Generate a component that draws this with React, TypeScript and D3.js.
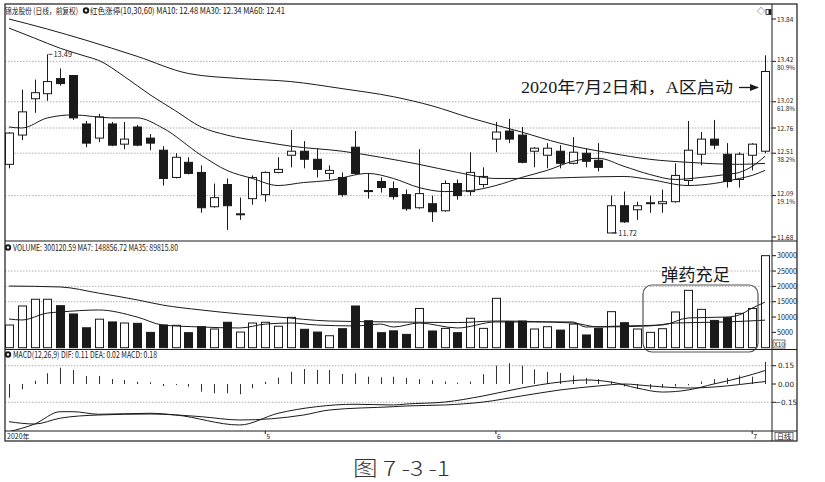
import React from 'react';
import * as d3 from 'd3';

// ---------- DATA ----------
const opens = [12.40, 12.69, 13.05, 13.10, 13.25, 13.28, 12.80, 12.66, 12.80, 12.60, 12.77, 12.66, 12.54, 12.27, 12.42, 12.32, 11.98, 12.20, 11.90, 12.06,
  12.10, 12.32, 12.49, 12.53, 12.45, 12.31, 12.27, 12.57, 12.14, 12.23, 12.16, 12.10, 11.97, 12.01, 11.94, 12.21, 12.13, 12.20, 12.65, 12.73,
  12.69, 12.53, 12.49, 12.53, 12.41, 12.51, 12.44, 11.72, 11.99, 11.95, 12.01, 12.01, 12.03, 12.24, 12.50, 12.65, 12.50, 12.25, 12.49, 12.53];
const highs = [12.72, 13.14, 13.24, 13.49, 13.35, 13.28, 12.83, 12.90, 12.82, 12.82, 12.79, 12.70, 12.58, 12.51, 12.47, 12.39, 12.21, 12.26, 12.07, 12.29,
  12.33, 12.47, 12.74, 12.63, 12.56, 12.39, 12.32, 12.73, 12.31, 12.27, 12.23, 12.15, 12.55, 12.09, 12.24, 12.25, 12.52, 12.37, 12.82, 12.85,
  12.77, 12.57, 12.61, 12.59, 12.67, 12.56, 12.61, 12.09, 12.13, 12.03, 12.09, 12.15, 12.41, 12.83, 12.72, 12.84, 12.61, 12.52, 12.61, 13.48];
const lows = [12.36, 12.64, 12.91, 13.03, 13.18, 12.84, 12.57, 12.62, 12.58, 12.55, 12.58, 12.54, 12.19, 12.26, 12.30, 11.92, 11.97, 11.75, 11.85, 12.00,
  12.03, 12.31, 12.37, 12.36, 12.27, 12.25, 12.08, 12.30, 12.06, 12.12, 12.05, 11.94, 11.96, 11.83, 11.93, 12.05, 12.09, 12.17, 12.52, 12.61,
  12.41, 12.37, 12.36, 12.36, 12.40, 12.37, 12.33, 11.72, 11.82, 11.85, 11.92, 11.92, 12.02, 12.19, 12.39, 12.55, 12.17, 12.17, 12.34, 12.51];
const closes = [12.71, 12.92, 13.11, 13.22, 13.20, 12.86, 12.61, 12.87, 12.59, 12.65, 12.59, 12.61, 12.26, 12.47, 12.31, 11.97, 12.07, 11.99, 11.91, 12.27,
  12.32, 12.35, 12.53, 12.45, 12.35, 12.34, 12.10, 12.31, 12.13, 12.17, 12.08, 11.96, 12.11, 11.93, 12.21, 12.09, 12.32, 12.28, 12.72, 12.65,
  12.42, 12.56, 12.56, 12.41, 12.52, 12.43, 12.37, 11.99, 11.83, 11.99, 12.02, 12.03, 12.29, 12.54, 12.65, 12.59, 12.23, 12.50, 12.60, 13.32];
const volumes = [7400, 13600, 15800, 15800, 13700, 11000, 6500, 9300, 8400, 8050, 7950, 5000, 7400, 7300, 4900, 6850, 6100, 8300, 5100, 8050,
  8300, 7000, 9900, 6000, 5100, 3900, 6200, 13600, 8800, 4900, 5500, 4350, 12800, 5450, 6300, 4900, 9600, 6300, 16100, 8500,
  8700, 6100, 6850, 5750, 7700, 4150, 6300, 11750, 8150, 6100, 5000, 6200, 11650, 18700, 12500, 8900, 9800, 11200, 12800, 30012];
const macdHist = [-0.112, -0.044, 0.027, 0.088, 0.134, 0.115, 0.066, 0.066, 0.041, 0.033, 0.019, 0.014, -0.016, -0.008, -0.022, -0.063, -0.076, -0.076, -0.084, -0.035,
  0.019, 0.052, 0.101, 0.123, 0.115, 0.115, 0.082, 0.088, 0.060, 0.055, 0.060, 0.05, 0.04, 0.03, 0.02, 0.01, 0.02, 0.08, 0.15, 0.17,
  0.15, 0.12, 0.10, 0.09, 0.07, 0.05, 0.04, 0.02, -0.02, -0.04, -0.04, -0.03, -0.02, -0.01, 0.02, 0.04, 0.05, 0.07, 0.06, 0.18];

// moving-average lines: [day index, value]
const ma10: [number, number][] = [[0, 12.77], [1, 12.76], [3, 12.86], [5, 12.89], [8, 12.86], [10, 12.86], [12, 12.76], [15, 12.49], [17, 12.34], [19, 12.26],
  [21, 12.19], [23, 12.22], [25, 12.24], [28, 12.31], [30, 12.26], [32, 12.17], [34, 12.13], [36, 12.14], [38, 12.19], [40, 12.27], [42, 12.34], [44, 12.43],
  [46, 12.46], [48, 12.38], [50, 12.30], [52, 12.25], [54, 12.27], [56, 12.30], [57, 12.32], [58, 12.38], [59, 12.48]];
const ma30: [number, number][] = [[0, 13.75], [2, 13.65], [4, 13.55], [6, 13.47], [7, 13.43], [9, 13.27], [11, 13.09], [13, 12.93], [15, 12.77], [17, 12.69],
  [20, 12.62], [22, 12.58], [26, 12.53], [29, 12.47], [32, 12.40], [35, 12.32], [38, 12.26], [41, 12.26], [44, 12.27], [48, 12.28], [50, 12.25], [53, 12.19],
  [55, 12.21], [57, 12.26], [58, 12.29], [59, 12.34]];
const ma60: [number, number][] = [[0, 13.84], [3, 13.74], [6, 13.63], [10, 13.47], [14, 13.30], [18, 13.25], [22, 13.22], [26, 13.15], [30, 13.07], [33, 12.98],
  [36, 12.86], [40, 12.72], [43, 12.61], [47, 12.51], [50, 12.45], [53, 12.42], [57, 12.40], [59, 12.41]];
const volMa7: [number, number][] = [[0, 9360], [1, 9040], [3, 11300], [4, 11650], [7, 12300], [10, 10000], [12, 7400], [15, 6750], [18, 6430], [20, 7700],
  [22, 8050], [24, 7400], [27, 7100], [29, 7700], [30, 6750], [32, 8050], [35, 6430], [38, 8400], [42, 8400], [44, 8400], [45, 6750], [48, 7100], [51, 7400],
  [53, 9700], [56, 10000], [57, 10700], [58, 12900], [59, 14886]];
const volMa35: [number, number][] = [[0, 20100], [4, 19800], [7, 17800], [10, 15600], [12, 13900], [15, 12300], [18, 11000], [21, 10000], [25, 8700], [30, 8400],
  [35, 8200], [38, 8700], [44, 8050], [46, 6750], [50, 7100], [52, 8050], [56, 8400], [59, 8982]];
const dif: [number, number][] = [[0, -0.391], [2, -0.328], [4, -0.227], [5, -0.227], [7, -0.248], [11, -0.240], [13, -0.254], [18, -0.336], [21, -0.240], [24, -0.186],
  [27, -0.166], [30, -0.172], [31, -0.164], [34, -0.148], [37, -0.098], [40, -0.033], [43, 0.016], [45, 0.033], [47, 0.016], [49, -0.033], [51, -0.066],
  [53, -0.049], [55, 0.0], [57, 0.049], [59, 0.11]];
const dea: [number, number][] = [[0, -0.309], [2, -0.328], [4, -0.28], [7, -0.254], [11, -0.246], [15, -0.268], [18, -0.295], [23, -0.254], [25, -0.213], [30, -0.186],
  [31, -0.180], [34, -0.172], [37, -0.148], [40, -0.098], [43, -0.049], [46, -0.016], [48, 0.0], [50, -0.016], [53, -0.033], [56, -0.016], [58, 0.008], [59, 0.02]];

const priceTicks = [13.84, 13.42, 13.02, 12.76, 12.51, 12.09, 11.68];
const fibLabels = ['', '80.9%', '61.8%', '', '38.2%', '19.1%', ''];
const priceGrid = [13.42, 13.02, 12.76, 12.51, 12.09];
const volTicks = [30000, 25000, 20000, 15000, 10000, 5000];
const volGrid = [25000, 20000, 15000];
const macdTicks = [0.15, 0, -0.15];
const macdTickLabels = ['0.15', '0.00', '\u22120.15'];
const macdGrid = [0.15, -0.15];
const monthIdx = [0, 20, 38, 58];
const monthLabels = ['2020年', '5', '6', '7'];

// ---------- LAYOUT ----------
const L = 5, R = 772, RR = 797, T = 4, B = 441;
const SEP1 = 241, SEP2 = 349.5, SEP3 = 431;
const FONT = "SimSun, 'Noto Sans CJK SC', sans-serif";

export default function App() {
  const n = closes.length;
  const x = d3.scaleLinear().domain([0, n - 1]).range([9, 765]);
  const yP = d3.scaleLinear().domain([11.68, 13.84]).range([237, 19]);
  const yV = d3.scaleLinear().domain([0, 30000]).range([347.7, 255.7]);
  const yM = d3.scaleLinear().domain([-0.15, 0.15]).range([402.3, 365.7]);

  const lineP = d3.line<[number, number]>().x(d => x(d[0])).y(d => yP(d[1])).curve(d3.curveMonotoneX);
  const lineV = d3.line<[number, number]>().x(d => x(d[0])).y(d => yV(d[1])).curve(d3.curveMonotoneX);
  const lineM = d3.line<[number, number]>().x(d => x(d[0])).y(d => yM(d[1])).curve(d3.curveMonotoneX);

  const bw = 8;
  const ink = '#1a1a1a';
  const grid = '#9a9a9a';

  const icon = (cx: number, cy: number) => (
    <g>
      <circle cx={cx} cy={cy} r={3.2} fill={ink} />
      <circle cx={cx} cy={cy} r={1.2} fill="#fff" />
    </g>
  );

  return (
    <svg width={825} height={482} style={{ position: 'absolute', left: 0, top: 0, background: '#fff' }} fontFamily={FONT}>
      <defs>
        <clipPath id="clipP"><rect x={L} y={SEP1 - 225} width={R - L} height={225} /></clipPath>
        <clipPath id="clipV"><rect x={L} y={SEP1} width={R - L} height={SEP2 - SEP1} /></clipPath>
        <clipPath id="clipM"><rect x={L} y={SEP2 + 9} width={R - L} height={SEP3 - SEP2 - 9} /></clipPath>
        <marker id="arr" viewBox="0 0 10 10" refX={9} refY={5} markerWidth={7} markerHeight={7} orient="auto">
          <path d="M0,1 L10,5 L0,9 z" fill={ink} />
        </marker>
      </defs>
      <rect x={0} y={0} width={825} height={482} fill="#fff" />

      {/* gridlines */}
      {priceGrid.map((v, i) => (
        <line key={'pg' + i} x1={L} x2={R} y1={yP(v)} y2={yP(v)} stroke={grid} strokeWidth={0.8} strokeDasharray="1.5,1.5" />
      ))}
      {volGrid.map((v, i) => (
        <line key={'vg' + i} x1={L} x2={R} y1={yV(v)} y2={yV(v)} stroke={grid} strokeWidth={0.8} strokeDasharray="1.5,1.5" />
      ))}
      {macdGrid.map((v, i) => (
        <line key={'mg' + i} x1={L} x2={R} y1={yM(v)} y2={yM(v)} stroke={grid} strokeWidth={0.8} strokeDasharray="1.5,1.5" />
      ))}

      {/* candles */}
      <g clipPath="url(#clipP)">
        {closes.map((c, i) => {
          const o = opens[i];
          const up = c >= o;
          const cx = Math.round(x(i)) + 0.5;
          const top = yP(Math.max(o, c));
          const h = Math.max(1, Math.abs(yP(o) - yP(c)));
          return (
            <g key={'c' + i}>
              <line x1={cx} x2={cx} y1={yP(highs[i])} y2={yP(lows[i])} stroke={ink} strokeWidth={1} />
              <rect x={cx - bw / 2} y={top} width={bw} height={h} fill={up ? '#fff' : ink} stroke={ink} strokeWidth={1} />
            </g>
          );
        })}
        <path d={lineP(ma10) || ''} fill="none" stroke={ink} strokeWidth={1} />
        <path d={lineP(ma30) || ''} fill="none" stroke={ink} strokeWidth={1} />
        <path d={lineP(ma60) || ''} fill="none" stroke={ink} strokeWidth={1} />
      </g>

      {/* high / low markers */}
      <line x1={x(3) + 1} x2={x(3) + 5} y1={yP(13.49)} y2={yP(13.49)} stroke={ink} strokeWidth={0.8} />
      <text x={x(3) + 6} y={yP(13.49) + 3} fontSize={7.5} fill={ink}>13.49</text>
      <line x1={x(47) + 1} x2={x(47) + 6} y1={yP(11.72)} y2={yP(11.72)} stroke={ink} strokeWidth={0.8} />
      <text x={x(47) + 7} y={yP(11.72) + 3} fontSize={7.5} fill={ink}>11.72</text>

      {/* annotation price */}
      <text x={521} y={93} fontSize={16} fontFamily="'Liberation Serif', 'Noto Sans CJK SC', serif" fill={ink} textLength={212} lengthAdjust="spacingAndGlyphs">2020年7月2日和，A区启动</text>
      <line x1={739} x2={758} y1={87.5} y2={87.5} stroke={ink} strokeWidth={1.3} markerEnd="url(#arr)" />

      {/* volume */}
      <g clipPath="url(#clipV)">
        {volumes.map((v, i) => {
          const up = closes[i] >= opens[i];
          const cx = Math.round(x(i)) + 0.5;
          return (
            <rect key={'v' + i} x={cx - bw / 2} y={yV(v)} width={bw} height={yV(0) - yV(v)} fill={up ? '#fff' : ink} stroke={ink} strokeWidth={1} />
          );
        })}
        <path d={lineV(volMa7) || ''} fill="none" stroke={ink} strokeWidth={1} />
        <path d={lineV(volMa35) || ''} fill="none" stroke={ink} strokeWidth={1} />
      </g>
      <rect x={643} y={285} width={115} height={67} rx={9} ry={9} fill="none" stroke="#555" strokeWidth={1.2} />
      <text x={661} y={281} fontSize={17} fill={ink} textLength={69} lengthAdjust="spacingAndGlyphs">弹药充足</text>

      {/* macd */}
      <g clipPath="url(#clipM)">
        {macdHist.map((v, i) => {
          const cx = Math.round(x(i)) + 0.5;
          return <line key={'m' + i} x1={cx} x2={cx} y1={yM(0)} y2={yM(v)} stroke="#333" strokeWidth={1} />;
        })}
        <path d={lineM(dif) || ''} fill="none" stroke={ink} strokeWidth={1} />
        <path d={lineM(dea) || ''} fill="none" stroke={ink} strokeWidth={1} />
      </g>

      {/* frame */}
      <rect x={L} y={T} width={RR - L} height={B - T} fill="none" stroke={ink} strokeWidth={1.2} />
      <line x1={R} x2={R} y1={T} y2={B} stroke={ink} strokeWidth={1} />
      <line x1={L} x2={RR} y1={SEP1} y2={SEP1} stroke={ink} strokeWidth={1} />
      <line x1={L} x2={RR} y1={SEP2} y2={SEP2} stroke={ink} strokeWidth={1} />
      <line x1={L} x2={RR} y1={SEP3} y2={SEP3} stroke={ink} strokeWidth={1} />

      {/* headers */}
      <text x={5} y={14} fontSize={8.5} fill={ink} textLength={73} lengthAdjust="spacingAndGlyphs">锦龙股份 (日线，前复权)</text>
      {icon(86, 10.5)}
      <text x={90} y={14} fontSize={8.5} fill={ink} textLength={195} lengthAdjust="spacingAndGlyphs">红色涨停(10,30,60) MA10: 12.48 MA30: 12.34 MA60: 12.41</text>
      <text x={757} y={14} fontSize={8} fill={ink}>◇</text>
      <rect x={766} y={9.5} width={5} height={5} fill="none" stroke={ink} strokeWidth={0.8} />
      <rect x={768.5} y={9.5} width={2.5} height={5} fill={ink} />

      {icon(8, 247.5)}
      <text x={13} y={251} fontSize={8.5} fill={ink} textLength={165} lengthAdjust="spacingAndGlyphs">VOLUME: 300120.59 MA7: 148856.72 MA35: 89815.80</text>
      {icon(8, 354.5)}
      <text x={13} y={357.5} fontSize={8.5} fill={ink} textLength={144} lengthAdjust="spacingAndGlyphs">MACD(12,26,9) DIF: 0.11 DEA: 0.02 MACD: 0.18</text>

      {/* right axes */}
      {priceTicks.map((v, i) => (
        <g key={'pt' + i}>
          <line x1={R} x2={R + 4} y1={yP(v)} y2={yP(v)} stroke={ink} strokeWidth={1} />
          <text x={777} y={yP(v) + (fibLabels[i] ? 0.8 : 2.5)} fontSize={6.5} fill={ink}>{v.toFixed(2)}</text>
          {fibLabels[i] && <text x={777} y={yP(v) + 8.8} fontSize={6.3} fill={ink}>{fibLabels[i]}</text>}
        </g>
      ))}
      {volTicks.map((v, i) => (
        <g key={'vt' + i}>
          <line x1={R} x2={R + 4} y1={yV(v)} y2={yV(v)} stroke={ink} strokeWidth={1} />
          <text x={777} y={yV(v) + 2.5} fontSize={7.2} fill={ink}>{v}</text>
        </g>
      ))}
      <rect x={773} y={340} width={12} height={8} fill="#fff" stroke={ink} strokeWidth={0.6} />
      <text x={774} y={346.5} fontSize={6.5} fill={ink}>X10</text>
      {macdTicks.map((v, i) => (
        <g key={'mt' + i}>
          <line x1={R} x2={R + 4} y1={yM(v)} y2={yM(v)} stroke={ink} strokeWidth={1} />
          <text x={v < 0 ? 775 : 778} y={yM(v) + 2.5} fontSize={7.2} fontFamily="'DejaVu Sans', sans-serif" fill={ink}>{macdTickLabels[i]}</text>
        </g>
      ))}

      {/* date row */}
      {monthIdx.map((idx, i) => (
        <g key={'mo' + i}>
          {i > 0 && <line x1={x(idx)} x2={x(idx)} y1={SEP3} y2={SEP3 + 3} stroke={ink} strokeWidth={1} />}
          <text x={i === 0 ? 7 : x(idx) + 1} y={439} fontSize={7} fill={ink}>{monthLabels[i]}</text>
        </g>
      ))}
      <rect x={775} y={432.5} width={18} height={7.5} fill="none" stroke={ink} strokeWidth={0.6} />
      <text x={777} y={439} fontSize={7} fill={ink}>日线</text>

      {/* caption */}
      <text x={353} y={476} fontSize={20} fill="#333" fontWeight={300} fontFamily="'Noto Sans CJK SC', sans-serif" textLength={97} lengthAdjust="spacingAndGlyphs">图 7 -3 -1</text>
    </svg>
  );
}
